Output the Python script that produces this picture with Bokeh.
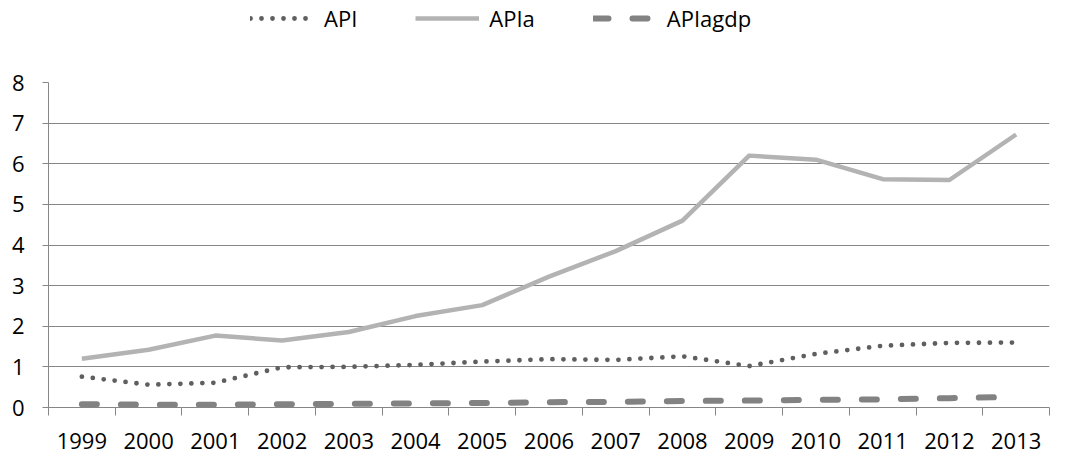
from bokeh.plotting import figure
from bokeh.layouts import column
from bokeh.models import Legend, LegendItem, FixedTicker, ColumnDataSource
from bokeh.embed import file_html
from bokeh.resources import INLINE

years = [1999, 2000, 2001, 2002, 2003, 2004, 2005, 2006, 2007, 2008, 2009, 2010, 2011, 2012, 2013]
api = [0.76, 0.56, 0.61, 0.99, 1.0, 1.05, 1.13, 1.19, 1.17, 1.26, 1.02, 1.32, 1.52, 1.59, 1.60]
apia = [1.20, 1.42, 1.77, 1.65, 1.86, 2.25, 2.52, 3.22, 3.85, 4.60, 6.20, 6.10, 5.62, 5.60, 6.72]
apiagdp = [0.08, 0.07, 0.07, 0.08, 0.09, 0.10, 0.11, 0.13, 0.14, 0.16, 0.17, 0.19, 0.20, 0.23, 0.26]
y_ticks = [0, 1, 2, 3, 4, 5, 6, 7, 8]
names = ["API", "APIa", "APIagdp"]

FONT = "Open Sans"
GRID = "#868686"
STYLES = [dict(line_color="#5f5f5f", line_width=4.8, line_dash="0 11", line_cap="round"),
          dict(line_color="#b3b3b3", line_width=4.5, line_join="round"),
          dict(line_color="#828282", line_width=6, line_dash="15 24", line_cap="round")]
COLS = ["api", "apia", "apiagdp"]

src = ColumnDataSource(dict(x=years, api=api, apia=apia, apiagdp=apiagdp))

# ---- main chart
p = figure(width=1067, height=397, output_backend="svg", toolbar_location=None,
           x_range=(years[0] - 0.5, years[-1] + 0.5), y_range=(y_ticks[0], y_ticks[-1]),
           min_border_left=48, min_border_right=18, min_border_top=22, min_border_bottom=50)
p.outline_line_color = None
for c, st in zip(COLS, STYLES):
    p.line("x", c, source=src, **st)

p.xaxis.ticker = FixedTicker(ticks=years, minor_ticks=[y - 0.5 for y in years] + [years[-1] + 0.5])
p.xaxis.major_tick_out = 0
p.xaxis.major_tick_in = 0
p.xaxis.minor_tick_out = 8
p.xaxis.minor_tick_in = 0
p.xaxis.minor_tick_line_color = GRID
p.xaxis.axis_line_color = GRID
p.xaxis.major_label_standoff = 17
p.xaxis.major_label_text_font = FONT
p.xaxis.major_label_text_font_size = "22px"
p.xaxis.major_label_text_color = "black"
p.xgrid.grid_line_color = None

p.yaxis.ticker = FixedTicker(ticks=y_ticks)
p.yaxis.major_tick_out = 6
p.yaxis.major_tick_in = 0
p.yaxis.minor_tick_out = 0
p.yaxis.minor_tick_in = 0
p.yaxis.major_tick_line_color = GRID
p.yaxis.axis_line_color = GRID
p.yaxis.major_label_standoff = 18
p.yaxis.major_label_text_font = FONT
p.yaxis.major_label_text_font_size = "22px"
p.yaxis.major_label_text_color = "black"
p.ygrid.grid_line_color = GRID
p.ygrid.grid_line_width = 1

# ---- legend strip on top
lg = figure(width=1067, height=60, output_backend="svg", toolbar_location=None,
            x_range=p.x_range, y_range=p.y_range,
            min_border_left=0, min_border_right=0, min_border_top=0, min_border_bottom=0)
lg.outline_line_color = None
lg.axis.visible = False
lg.grid.visible = False
items = []
for c, st, n in zip(COLS, STYLES, names):
    r = lg.line("x", c, source=src, visible=False, **st)
    items.append(LegendItem(label=n, renderers=[r]))

legend = Legend(items=items, orientation="horizontal", location=(202, 27),
                glyph_width=64, glyph_height=20, label_standoff=10, spacing=58,
                padding=0, margin=0, border_line_color=None, background_fill_alpha=0,
                label_text_font=FONT, label_text_font_size="22px", label_text_color="black")
lg.add_layout(legend, "center")

layout = column(lg, p, spacing=0)
open("out.html", "w").write(file_html(layout, INLINE))
